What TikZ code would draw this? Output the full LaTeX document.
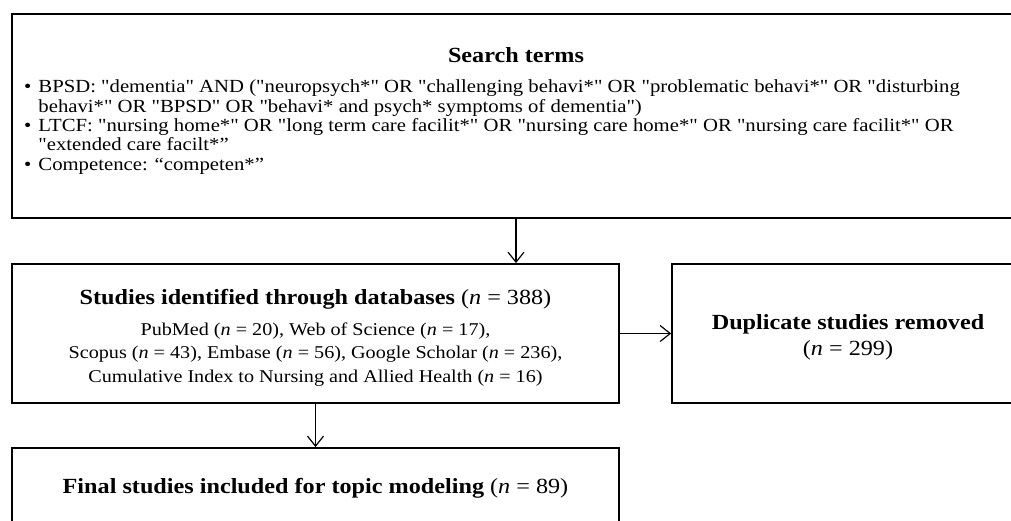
\documentclass[tikz,border=0pt]{standalone}
\usepackage{fontspec}
\setmainfont{Liberation Serif}[FakeStretch=1.12, Ligatures=TeXOff]
\usetikzlibrary{arrows.meta,positioning}
\newcommand{\headsize}{\fontsize{21.6}{26}\selectfont}

\begin{document}
\begin{tikzpicture}[x=1pt,y=-1pt,
  box/.style={draw, line width=1.8pt, inner sep=0pt},
  arr/.style={line width=1.2pt, -{Straight Barb[length=10pt,width=16pt,line width=1.2pt]}},
  headfont/.style={font=\headsize},
  bodyfont/.style={font=\fontsize{18}{23.5}\selectfont},
  listfont/.style={font=\fontsize{18.5}{19.3}\selectfont}]
  % page
  \useasboundingbox (0,0) rectangle (1011,521);
  % Boxes
  \node[box, minimum width=1008, minimum height=204] (terms) at (516,116) {};
  \node[box, bodyfont, align=center, minimum width=607, minimum height=139] (ident) at (315.5,333.5)
    {{\headsize\rule{0pt}{23.5pt}\textbf{Studies identified through databases} (\textit{n} = 388)}\\[7pt]
     PubMed (\textit{n} = 20), Web of Science (\textit{n} = 17),\\
     Scopus (\textit{n} = 43), Embase (\textit{n} = 56), Google Scholar (\textit{n} = 236),\\
     Cumulative Index to Nursing and Allied Health (\textit{n} = 16)};
  \node[box, headfont, align=center, minimum width=352, minimum height=139] (dupl) at (848,333.5)
    {\rule{0pt}{23pt}\textbf{Duplicate studies removed}\\(\textit{n} = 299)};
  \node[box, headfont, minimum width=607, minimum height=80] (final) at (315.5,488)
    {\textbf{Final studies included for topic modeling} (\textit{n} = 89)};
  % Search terms
  \node[headfont] (termshead) at (516,55) {\textbf{Search terms}};
  \node[listfont, anchor=base west, inner sep=0pt] (termslist) at (24,93)
    {\begin{tabular}[t]{@{}l@{\hspace{7pt}}l@{}}
      \textbullet & BPSD: "dementia" AND ("neuropsych*" OR "challenging behavi*" OR "problematic behavi*" OR "disturbing\\
       & behavi*" OR "BPSD" OR "behavi* and psych* symptoms of dementia")\\
      \textbullet & LTCF: "nursing home*" OR "long term care facilit*" OR "nursing care home*" OR "nursing care facilit*" OR\\
       & "extended care facilt*”\\
      \textbullet & Competence: “competen*”
    \end{tabular}};
  % Arrows
  \draw[arr] (terms.south) -- (terms.south |- ident.north);
  \draw[arr] (ident.east) -- (dupl.west);
  \draw[arr] (ident.south) -- (final.north);
\end{tikzpicture}
\end{document}
